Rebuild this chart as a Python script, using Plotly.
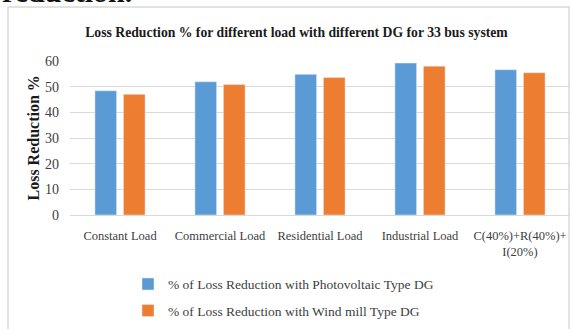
import plotly.graph_objects as go

categories = ["Constant Load", "Commercial Load", "Residential Load", "Industrial Load", "C(40%)+R(40%)+<br>I(20%)"]
pv_values = [48.4, 51.9, 54.8, 59.2, 56.6]
wind_values = [47.0, 50.8, 53.6, 58.0, 55.4]
pv_name = "% of Loss Reduction with Photovoltaic Type DG"
wind_name = "% of Loss Reduction with Wind mill Type DG"
y_ticks = [0, 10, 20, 30, 40, 50, 60]

FONT = "Liberation Serif, Times New Roman, serif"
W, H = 572, 329
L, R, T, B = 70, 2, 61, 114
PW, PH = W - L - R, H - T - B


def px(x):
    return (x - L) / PW


def py(y):
    return (H - B - y) / PH


fig = go.Figure()
fig.add_trace(go.Bar(x=categories, y=pv_values, name=pv_name, marker_color="#5B9BD5", legendgroup="pv"))
fig.add_trace(go.Bar(x=categories, y=wind_values, name=wind_name, marker_color="#ED7D31", legendgroup="wind"))

fig.update_layout(
    width=W, height=H,
    margin=dict(l=L, r=R, t=T, b=B),
    paper_bgcolor="white", plot_bgcolor="white",
    font=dict(family=FONT, size=12, color="#404040"),
    barmode="group", bargap=0.43, bargroupgap=0.24,
    title=dict(text="<b>Loss Reduction % for different load with different DG for 33 bus system</b>",
               x=296.5 / W, xref="container", xanchor="center",
               y=1 - 32 / H, yref="container", yanchor="middle",
               font=dict(family=FONT, size=13.7, color="#1a1a1a")),
    showlegend=True,
    legend=dict(orientation="v", x=px(128), xanchor="left", y=py(268.7), yanchor="top",
                font=dict(family=FONT, size=13.5, color="#404040"),
                tracegroupgap=6, itemwidth=30, bgcolor="rgba(0,0,0,0)"),
)
fig.update_yaxes(range=[0, 60], tickvals=y_ticks, showgrid=True, gridcolor="#d9d9d9", gridwidth=1,
                 zeroline=False, showline=False, ticks="", ticklabelstandoff=10,
                 tickfont=dict(family=FONT, size=14, color="#404040"))
fig.update_xaxes(showline=True, linecolor="#d9d9d9", linewidth=1, ticks="", ticklabelstandoff=9,
                 tickfont=dict(family=FONT, size=12.5, color="#404040"))

fig.add_annotation(text="<b>Loss Reduction %</b>", textangle=-90, xref="paper", yref="paper",
                   x=px(33), y=py(138.5), xanchor="center", yanchor="middle",
                   showarrow=False, font=dict(family=FONT, size=16, color="#1a1a1a"))

# partially visible heading text from the page above the chart
fig.add_annotation(text="<b>reduction.</b>", xref="paper", yref="paper",
                   x=px(0), y=py(10), xanchor="left", yanchor="bottom",
                   showarrow=False, font=dict(family=FONT, size=30, color="#111111"))

fig.add_shape(type="rect", xref="paper", yref="paper",
              x0=px(8), x1=px(569), y0=py(345), y1=py(7),
              line=dict(color="#d9d9d9", width=1.5), layer="below")

fig.write_html("out.html", config={"displayModeBar": False},
               post_script="document.body.style.margin='0';")
